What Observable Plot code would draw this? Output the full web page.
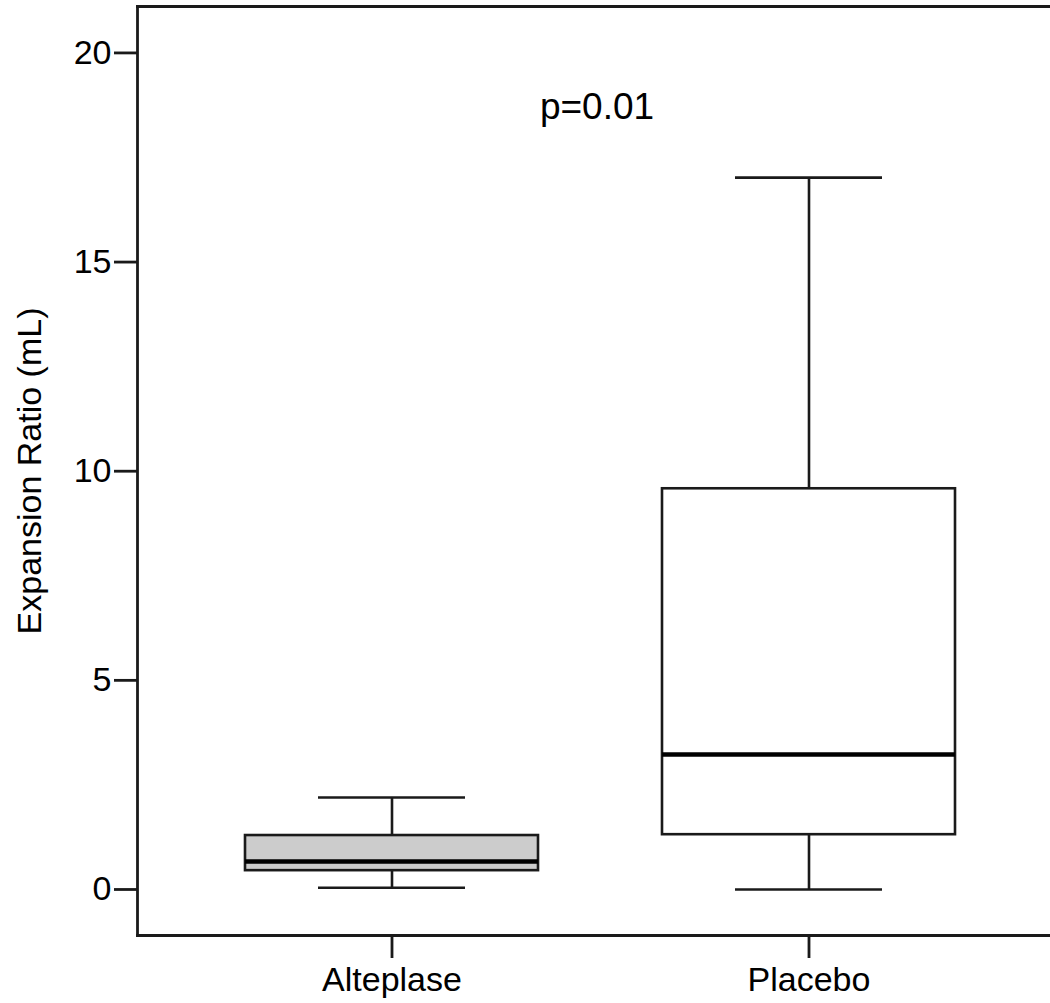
<!DOCTYPE html>
<html>
<head>
<meta charset="utf-8">
<script src="https://cdn.jsdelivr.net/npm/d3@7"></script>
<script src="https://cdn.jsdelivr.net/npm/@observablehq/plot@0.6"></script>
<style>
  html, body { margin: 0; padding: 0; background: #fff; overflow: hidden; }
  #chart svg { display: block; }
</style>
</head>
<body>
<div id="chart"></div>
<script>
const groups = ["Alteplase", "Placebo"];
const mins = [0.04, 0];
const q1s = [0.45, 1.31];
const medians = [0.67, 3.23];
const q3s = [1.29, 9.58];
const maxs = [2.2, 17.02];
const yTicks = [0, 5, 10, 15, 20];
const yLabel = "Expansion Ratio (mL)";
const pText = "p=0.01";

const data = groups.map((g, i) => ({
  group: g, min: mins[i], q1: q1s[i], median: medians[i], q3: q3s[i], max: maxs[i]
}));

const font = "'Liberation Sans', Arial, Helvetica, sans-serif";
const ink = "#1a1a1a";

const chart = Plot.plot({
  width: 1050,
  height: 1003,
  marginLeft: 137,
  marginRight: 0,
  marginTop: 6,
  marginBottom: 68,
  style: { fontFamily: font, background: "white", color: "black" },
  x: { domain: groups, range: [137, 1064], paddingInner: 0.297, paddingOuter: 0.26 },
  y: { domain: [-1.10, 21.11] },
  color: { domain: groups, range: ["#cccccc", "#ffffff"] },
  marks: [
    Plot.frame({ anchor: "left", stroke: ink, strokeWidth: 2.8 }),
    Plot.frame({ anchor: "top", stroke: ink, strokeWidth: 2.8 }),
    Plot.frame({ anchor: "bottom", stroke: ink, strokeWidth: 2.8 }),
    Plot.axisY({
      ticks: yTicks, tickSize: 23, tickPadding: 3, fontSize: 34,
      stroke: ink, strokeWidth: 2.8, fill: "black",
      label: yLabel, labelAnchor: "center", labelArrow: "none", labelOffset: 121
    }),
    Plot.axisX({
      tickSize: 23, tickPadding: 8, fontSize: 34,
      stroke: ink, strokeWidth: 2.8, fill: "black", label: null
    }),
    // whiskers
    Plot.ruleX(data, { x: "group", y1: "q3", y2: "max", stroke: ink, strokeWidth: 2.6 }),
    Plot.ruleX(data, { x: "group", y1: "min", y2: "q1", stroke: ink, strokeWidth: 2.6 }),
    Plot.tickY(data, { x: "group", y: "max", stroke: ink, strokeWidth: 2.6, insetLeft: 73, insetRight: 73 }),
    Plot.tickY(data, { x: "group", y: "min", stroke: ink, strokeWidth: 2.6, insetLeft: 73, insetRight: 73 }),
    // boxes
    Plot.barY(data, { x: "group", y1: "q1", y2: "q3", fill: "group", stroke: ink, strokeWidth: 2.6 }),
    Plot.tickY(data, { x: "group", y: "median", stroke: "black", strokeWidth: 4.5 }),
    // annotation
    Plot.text([pText], {
      frameAnchor: "top", dx: 3, dy: 112, text: d => d, fontSize: 37,
      fill: "black", lineAnchor: "bottom", textAnchor: "middle"
    })
  ]
});
document.getElementById("chart").appendChild(chart);
</script>
</body>
</html>
